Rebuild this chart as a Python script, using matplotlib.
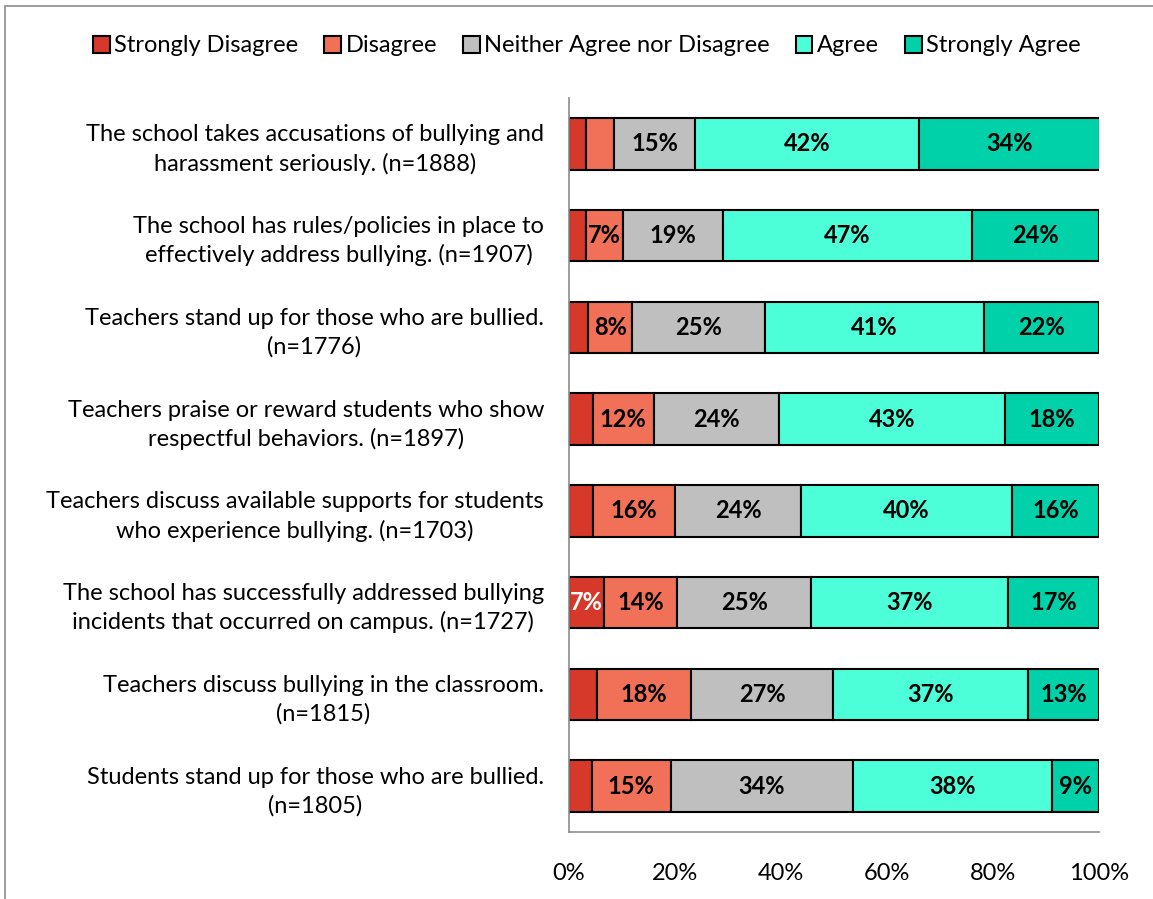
import matplotlib.pyplot as plt
from matplotlib.patches import Rectangle
import numpy as np

# %% Dados

perguntas = [
    'The school takes accusations of bullying and\nharassment seriously. (n=1888)',
    'The school has rules/policies in place to\neffectively address bullying. (n=1907)',
    'Teachers stand up for those who are bullied.\n(n=1776)',
    'Teachers praise or reward students who show\nrespectful behaviors. (n=1897)',
    'Teachers discuss available supports for students\nwho experience bullying. (n=1703)',
    'The school has successfully addressed bullying\nincidents that occurred on campus. (n=1727)',
    'Teachers discuss bullying in the classroom.\n(n=1815)',
    'Students stand up for those who are bullied.\n(n=1805)',
]
categorias = ['Strongly Disagree', 'Disagree', 'Neither Agree nor Disagree',
              'Agree', 'Strongly Agree']

strongly_disagree = [3.2, 3.2, 3.6, 4.5, 4.5, 6.6, 5.2, 4.3]
disagree = [5.3, 7.0, 8.3, 11.5, 15.5, 13.8, 17.9, 14.9]
neither = [15.3, 18.9, 25.1, 23.6, 23.8, 25.3, 26.7, 34.4]
agree = [42.3, 46.9, 41.3, 42.7, 39.8, 37.1, 36.8, 37.5]
strongly_agree = [34.0, 24.0, 21.7, 17.7, 16.4, 17.2, 13.4, 8.9]

cores = ['#D6382A', '#F07157', '#BFBFBF', '#4DFFD8', '#00D1A9']
cor_texto = ['white', 'black', 'black', 'black', 'black']

# %% Plot

plt.rcParams['font.family'] = ['Lato', 'DejaVu Sans']

fig = plt.figure(figsize=(11.53, 8.99), dpi=100)
ax = fig.add_axes([569/1153, 1-832/899, 530/1153, 734/899])

series = [strongly_disagree, disagree, neither, agree, strongly_agree]
y = np.arange(len(perguntas))
esquerda = np.zeros(len(perguntas))
for k, valores in enumerate(series):
    valores = np.array(valores)
    ax.barh(y, valores/100, left=esquerda/100, height=0.56,
            color=cores[k], edgecolor='black', linewidth=1.5,
            label=categorias[k])
    for i, v in enumerate(valores):
        if v >= 6:
            ax.text((esquerda[i] + v/2)/100, y[i], '%d%%' % round(v),
                    ha='center', va='center', fontsize=17, fontweight='bold',
                    color=cor_texto[k])
    esquerda += valores

ax.set_xlim(0, 1)
ax.set_ylim(len(perguntas)-0.5, -0.5)
ax.set_yticks(y)
ax.set_yticklabels(perguntas, fontsize=17, multialignment='center',
                   linespacing=1.4)
ax.set_xticks(np.linspace(0, 1, 6))
ax.set_xticklabels(['0%', '20%', '40%', '60%', '80%', '100%'], fontsize=17)
ax.tick_params(axis='y', length=0, pad=18)
ax.tick_params(axis='x', length=0, pad=22)
for lado in ['top', 'right']:
    ax.spines[lado].set_visible(False)
for lado in ['left', 'bottom']:
    ax.spines[lado].set_color('#8C8C8C')
    ax.spines[lado].set_linewidth(1.2)

fig.legend(loc='center', bbox_to_anchor=(587/1153, 1-46/899), ncol=5,
           frameon=False, fontsize=17, handlelength=0.7, handleheight=0.7,
           handletextpad=0.2, columnspacing=1.1)

# moldura do grafico
fig.patches.append(Rectangle((5/1153, -0.02), 1.1, 1.02-6/899, fill=False,
                             edgecolor='#8C8C8C', linewidth=1.2,
                             transform=fig.transFigure, figure=fig))

fig.savefig('out.png', dpi=100)
